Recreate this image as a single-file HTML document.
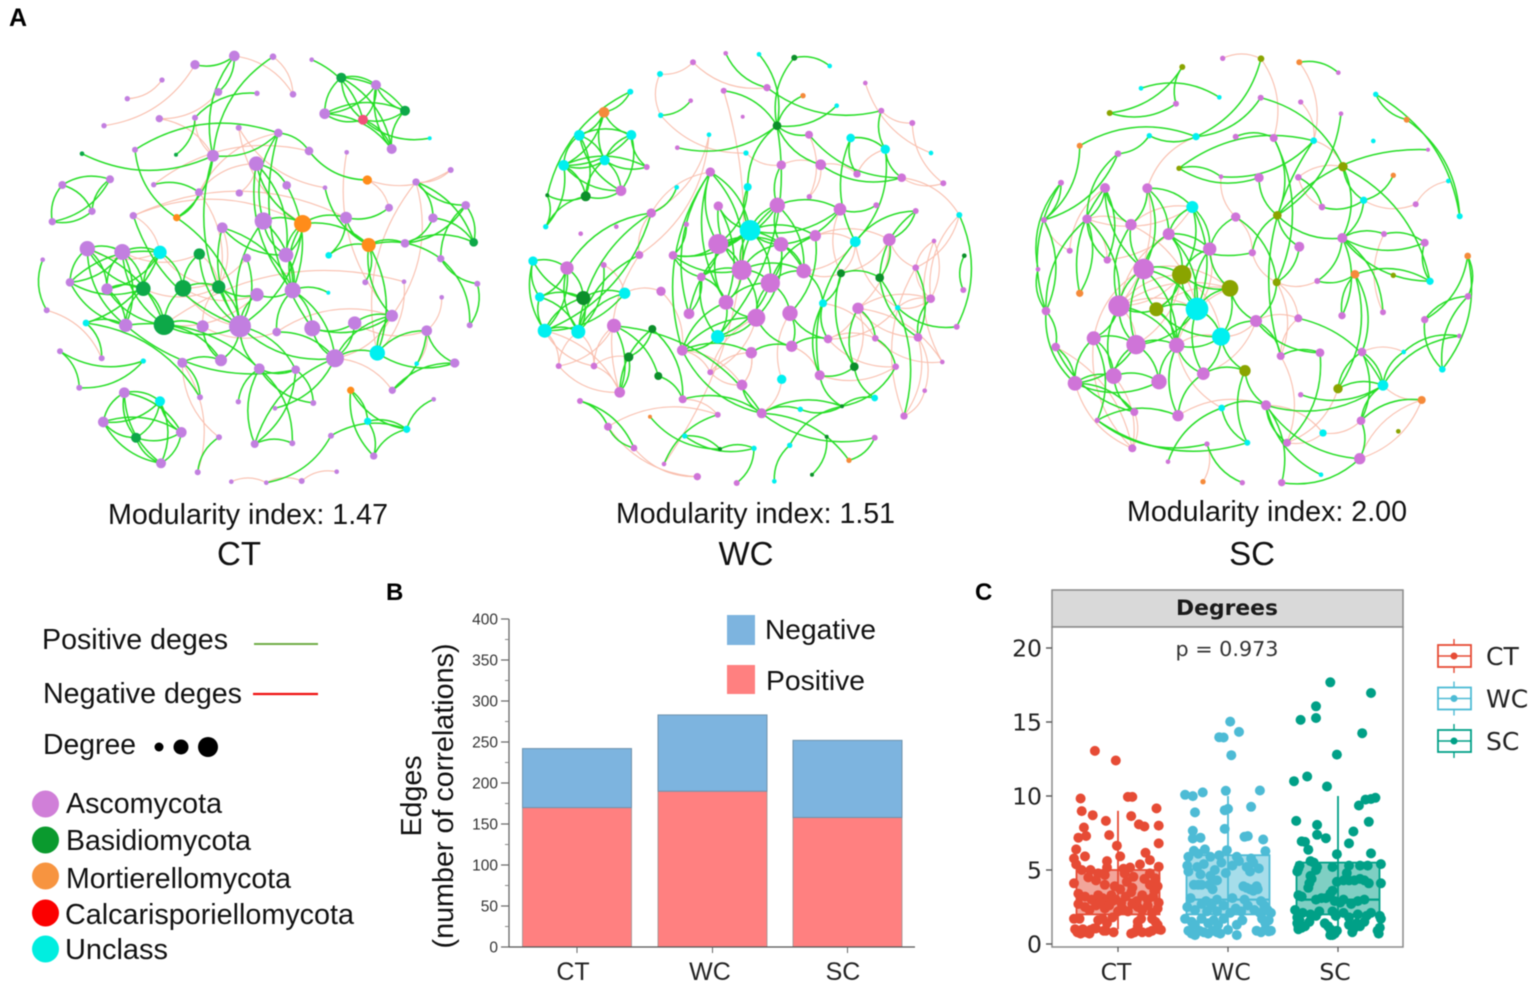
<!DOCTYPE html>
<html lang="en">
<head>
<meta charset="utf-8">
<title>Fungal co-occurrence networks</title>
<style>
html,body{margin:0;padding:0;background:#fff;}
svg{display:block;font-family:"Liberation Sans",sans-serif;}
#root{filter:blur(0.55px);}
</style>
</head>
<body>
<svg id="root" width="1535" height="988" viewBox="0 0 1535 988" xmlns="http://www.w3.org/2000/svg">
  <rect x="0" y="0" width="1535" height="988" fill="#ffffff"/>
  <text x="9" y="26" font-size="25" font-weight="700" fill="#000">A</text>
  <text x="386" y="600" font-size="24" font-weight="700" fill="#000">B</text>
  <text x="975" y="600" font-size="24" font-weight="700" fill="#000">C</text>

  <g id="networks"></g>

  <text x="108" y="524" font-size="28.6" fill="#111" textLength="280" lengthAdjust="spacingAndGlyphs">Modularity index: 1.47</text>
  <text x="616" y="523" font-size="28.6" fill="#111" textLength="279" lengthAdjust="spacingAndGlyphs">Modularity index: 1.51</text>
  <text x="1127" y="521" font-size="28.6" fill="#111" textLength="280" lengthAdjust="spacingAndGlyphs">Modularity index: 2.00</text>
  <text x="239" y="565" font-size="33" fill="#111" text-anchor="middle">CT</text>
  <text x="746" y="565" font-size="33" fill="#111" text-anchor="middle">WC</text>
  <text x="1252" y="565" font-size="33" fill="#111" text-anchor="middle">SC</text>

  <g>
    <text x="42" y="649" font-size="28.6" fill="#111" textLength="186" lengthAdjust="spacingAndGlyphs">Positive deges</text>
    <line x1="254" y1="644" x2="318" y2="644" stroke="#70ad47" stroke-width="2"/>
    <text x="43" y="703" font-size="28.6" fill="#111" textLength="199" lengthAdjust="spacingAndGlyphs">Negative deges</text>
    <line x1="253" y1="694" x2="318" y2="694" stroke="#f01010" stroke-width="2.2"/>
    <text x="43" y="754" font-size="28.6" fill="#111" textLength="93" lengthAdjust="spacingAndGlyphs">Degree</text>
    <circle cx="159" cy="747" r="4.5" fill="#000"/>
    <circle cx="181" cy="747" r="7.5" fill="#000"/>
    <circle cx="208" cy="747" r="10" fill="#000"/>
    <circle cx="45.5" cy="804" r="13.5" fill="#d07fd8"/>
    <circle cx="45.5" cy="840" r="13.5" fill="#0a9a2e"/>
    <circle cx="45.5" cy="876" r="13.5" fill="#f79440"/>
    <circle cx="45.5" cy="913" r="13.5" fill="#fb0000"/>
    <circle cx="45.5" cy="949" r="13.5" fill="#00eee0"/>
    <text x="66" y="813" font-size="28.6" fill="#111" textLength="156" lengthAdjust="spacingAndGlyphs">Ascomycota</text>
    <text x="66" y="850" font-size="28.6" fill="#111" textLength="185" lengthAdjust="spacingAndGlyphs">Basidiomycota</text>
    <text x="66" y="888" font-size="28.6" fill="#111" textLength="225" lengthAdjust="spacingAndGlyphs">Mortierellomycota</text>
    <text x="65" y="924" font-size="28.6" fill="#111" textLength="289" lengthAdjust="spacingAndGlyphs">Calcarisporiellomycota</text>
    <text x="65" y="959" font-size="28.6" fill="#111" textLength="103" lengthAdjust="spacingAndGlyphs">Unclass</text>
  </g>

  <g id="barChart">
    <text transform="translate(421,796) rotate(-90)" font-size="28.6" fill="#111" text-anchor="middle">Edges</text>
    <text transform="translate(453,796) rotate(-90)" font-size="28.6" fill="#111" text-anchor="middle" textLength="305" lengthAdjust="spacingAndGlyphs">(number of correlations)</text>
    <rect x="727" y="615" width="28" height="30" fill="#7db4df"/>
    <text x="765" y="639" font-size="28" fill="#111" textLength="111" lengthAdjust="spacingAndGlyphs">Negative</text>
    <rect x="727" y="665" width="28" height="29" fill="#ff8080"/>
    <text x="766" y="690" font-size="28" fill="#111" textLength="99" lengthAdjust="spacingAndGlyphs">Positive</text>
  </g>

  <g id="boxChart" style="font-family:'DejaVu Sans',sans-serif">
    <rect x="1052" y="590" width="351" height="37" fill="#d9d9d9" stroke="#8a8a8a" stroke-width="1.5"/>
    <text x="1227" y="615" font-size="21.5" font-weight="700" fill="#1a1a1a" text-anchor="middle" textLength="102" lengthAdjust="spacingAndGlyphs">Degrees</text>
    <rect x="1052" y="627" width="351" height="320" fill="#fff" stroke="#8a8a8a" stroke-width="1.5"/>
    <text x="1227" y="656" font-size="20.5" fill="#333" text-anchor="middle" textLength="103" lengthAdjust="spacingAndGlyphs">p = 0.973</text>
  </g>
</svg>
<script>
// ---------- network data: [x, y, radius, phylum] ----------
const ctNodes=[[613,48,16,'a'],[495,74,14,'a'],[729,50,10,'a'],[396,120,8,'a'],[292,176,8,'a'],[565,156,12,'a'],[681,160,8,'a'],[789,163,10,'a'],[845,59,7,'a'],[934,113,15,'b'],[1038,135,15,'a'],[884,221,16,'a'],[1125,212,15,'b'],[999,239,15,'c'],[1085,327,15,'a'],[1199,295,6,'u'],[222,257,8,'a'],[388,236,11,'a'],[495,233,9,'a'],[626,263,9,'a'],[745,279,13,'a'],[315,329,9,'a'],[156,341,7,'b'],[438,344,6,'b'],[549,347,18,'a'],[837,333,13,'a'],[950,337,7,'a'],[679,371,22,'a'],[1262,390,9,'a'],[1012,420,14,'m'],[770,436,13,'a'],[97,435,12,'a'],[240,418,12,'a'],[371,434,8,'a'],[507,457,12,'a'],[628,459,11,'a'],[885,443,7,'a'],[1158,426,11,'a'],[186,514,11,'a'],[67,545,11,'a'],[310,527,11,'a'],[440,533,11,'m'],[1077,503,12,'a'],[1307,496,13,'a'],[700,543,26,'a'],[818,551,26,'m'],[948,533,18,'a'],[1209,534,14,'a'],[577,563,16,'a'],[172,626,23,'a'],[277,636,24,'a'],[390,637,20,'u'],[508,642,17,'b'],[650,654,13,'a'],[768,645,22,'a'],[896,646,10,'u'],[1016,615,21,'m'],[1125,610,13,'a'],[1331,607,13,'b'],[1232,656,11,'a'],[38,659,7,'a'],[120,727,13,'a'],[231,747,17,'a'],[340,746,22,'b'],[459,745,25,'b'],[566,741,20,'b'],[681,764,20,'a'],[788,751,24,'a'],[895,758,6,'u'],[1006,727,9,'a'],[1122,725,7,'a'],[1342,731,9,'a'],[1235,772,7,'a'],[50,811,9,'a'],[168,849,10,'u'],[287,856,20,'a'],[402,854,31,'b'],[518,859,18,'a'],[630,859,33,'a'],[740,876,13,'a'],[847,865,24,'a'],[974,849,20,'a'],[1086,827,18,'a'],[1190,872,16,'a'],[1319,856,9,'a'],[90,934,9,'a'],[215,955,9,'a'],[340,963,8,'u'],[457,968,15,'a'],[573,961,18,'a'],[688,986,16,'a'],[797,989,13,'a'],[915,955,27,'a'],[1042,939,23,'u'],[1160,971,7,'u'],[1274,969,14,'a'],[1087,1051,11,'a'],[962,1051,11,'m'],[148,1043,9,'a'],[510,1072,9,'a'],[283,1058,16,'a'],[390,1084,15,'u'],[625,1085,8,'a'],[735,1105,7,'a'],[850,1089,9,'a'],[1211,1078,7,'a'],[1013,1144,11,'u'],[1130,1168,11,'u'],[220,1146,16,'a'],[454,1177,16,'a'],[318,1193,15,'b'],[567,1192,9,'a'],[674,1212,12,'a'],[787,1210,9,'a'],[903,1187,9,'a'],[1031,1248,11,'a'],[393,1270,15,'a'],[503,1297,9,'a'],[604,1325,7,'a'],[709,1328,7,'a'],[815,1323,9,'a'],[920,1295,7,'a']];
const ctGreen="0-1 0-5 0-24 2-24 8-13 9-11 9-10 9-12 9-13 9-14 10-11 10-12 10-13 10-14 11-12 11-13 11-14 12-13 12-14 13-14 13-15 6-18 18-23 22-24 24-20 21-20 21-41 41-78 24-78 20-25 25-29 20-80 27-30 27-45 27-54 27-67 30-67 45-67 44-45 44-54 44-67 45-54 54-67 45-78 44-78 48-78 48-67 48-54 53-78 52-78 52-64 49-61 49-62 49-63 49-75 50-61 50-62 50-63 50-75 51-61 51-62 51-63 51-74 51-64 61-63 61-75 62-63 62-75 62-76 63-75 63-76 74-75 50-51 49-50 49-76 50-76 64-65 64-76 65-78 76-77 76-78 76-89 75-90 75-91 31-32 31-38 31-39 32-38 32-39 38-39 33-34 46-56 36-56 46-42 46-55 45-46 45-56 55-56 56-57 56-69 56-59 57-47 57-43 47-37 47-58 37-43 37-58 43-58 43-59 57-58 59-71 59-84 71-84 56-82 56-93 67-68 67-66 66-78 66-65 67-79 67-80 67-92 78-92 78-89 78-90 78-91 79-92 80-92 81-92 82-92 81-82 81-80 80-82 83-93 83-95 83-96 93-95 92-93 93-82 96-95 85-87 85-98 87-98 86-74 74-99 88-89 88-99 90-112 90-113 90-102 91-112 91-104 90-104 92-103 92-112 73-60 100-101 100-108 100-110 100-109 100-116 101-108 101-110 101-109 101-116 108-109 108-110 108-116 109-110 109-116 110-116 111-117 112-113 91-90 114-119 114-107 97-106 97-107 97-115 106-107 106-115 107-115 105-107 40-78 34-41 20-44 77-89 54-45 24-41".split(' ');
const ctRed="0-1 1-16 3-4 17-5 0-7 2-7 17-24 18-24 19-45 20-34 34-27 35-27 40-51 40-45 29-42 26-82 28-37 28-29 37-82 34-65 49-51 50-52 51-65 52-65 76-66 64-78 65-77 73-86 88-117 111-88 118-119 119-120 120-121 70-93 70-76 72-83 83-94 96-92 25-33 36-19 52-78 53-64 63-65 64-66 77-79 79-82 81-83 92-82 92-93 37-93 46-40 48-65".split(' ');

const wcNodes=[[617,40,7,'a'],[717,43,7,'u'],[823,53,9,'b'],[929,78,7,'u'],[519,67,9,'a'],[420,102,9,'u'],[741,143,11,'a'],[611,152,9,'a'],[849,167,8,'m'],[1036,129,7,'a'],[512,182,7,'a'],[331,155,9,'u'],[252,217,16,'m'],[422,226,8,'u'],[668,230,6,'a'],[950,197,7,'u'],[1084,212,9,'a'],[1177,249,9,'a'],[771,257,13,'b'],[178,286,16,'u'],[334,285,15,'u'],[567,284,7,'u'],[867,284,12,'a'],[992,294,13,'u'],[472,323,7,'a'],[678,339,8,'u'],[1096,328,14,'u'],[1233,339,7,'u'],[254,361,15,'u'],[131,376,16,'u'],[380,381,9,'a'],[784,375,14,'a'],[902,374,16,'a'],[1011,402,11,'a'],[1145,413,13,'a'],[1270,430,9,'a'],[571,396,14,'a'],[303,452,16,'a'],[470,442,7,'u'],[683,441,12,'u'],[197,469,15,'b'],[82,466,6,'b'],[868,470,8,'a'],[772,496,23,'a'],[960,508,19,'a'],[595,498,14,'a'],[1069,496,9,'a'],[1187,513,9,'a'],[394,519,14,'a'],[1318,525,9,'u'],[77,560,8,'u'],[289,560,7,'a'],[499,553,8,'a'],[690,571,31,'u'],[886,587,17,'a'],[182,581,7,'a'],[595,612,30,'a'],[783,613,22,'a'],[1108,599,19,'a'],[1006,605,16,'u'],[1242,603,7,'a'],[39,663,14,'u'],[358,645,12,'a'],[459,646,13,'a'],[1333,647,7,'b'],[251,675,9,'a'],[141,684,20,'a'],[665,690,30,'a'],[851,693,22,'a'],[544,711,13,'a'],[963,700,12,'b'],[1079,713,13,'b'],[1187,683,10,'a'],[190,774,21,'b'],[751,729,29,'a'],[59,771,14,'u'],[314,760,17,'u'],[423,754,14,'a'],[1330,750,9,'a'],[1232,776,13,'a'],[618,787,22,'a'],[909,790,12,'u'],[1133,803,8,'u'],[1014,805,17,'a'],[507,821,16,'a'],[810,820,23,'a'],[709,833,27,'a'],[74,872,21,'u'],[175,875,21,'u'],[282,857,21,'a'],[397,867,12,'b'],[593,890,20,'u'],[1310,860,9,'a'],[924,897,13,'a'],[1066,895,10,'a'],[1194,892,13,'a'],[487,931,16,'a'],[694,938,17,'a'],[815,919,17,'a'],[326,951,14,'b'],[116,978,9,'a'],[222,978,10,'a'],[1003,980,13,'b'],[1127,980,10,'a'],[1267,966,7,'a'],[571,997,9,'a'],[415,1008,12,'b'],[899,1006,15,'a'],[666,1035,16,'a'],[785,1018,14,'u'],[299,1057,16,'a'],[1214,1052,7,'a'],[1064,1074,10,'u'],[488,1078,12,'a'],[180,1083,9,'a'],[966,1099,6,'b'],[725,1120,15,'a'],[841,1108,8,'u'],[1152,1128,11,'a'],[390,1130,6,'m'],[593,1124,9,'a'],[264,1160,12,'a'],[494,1188,8,'u'],[920,1190,6,'b'],[1064,1193,9,'a'],[342,1224,10,'a'],[809,1216,8,'u'],[600,1227,6,'b'],[702,1225,8,'u'],[987,1261,8,'m'],[432,1272,7,'a'],[532,1310,11,'a'],[876,1304,6,'b'],[650,1329,9,'a'],[763,1324,7,'u']];
const wcGreen="0-6 1-18 2-3 2-18 6-16 7-18 8-18 15-18 24-18 18-22 18-32 10-13 11-12 11-41 12-19 12-20 12-28 12-29 19-20 19-28 19-29 19-37 19-40 20-28 20-29 20-30 20-37 28-29 28-30 28-37 28-40 29-37 29-40 29-30 37-40 40-41 40-50 41-50 29-50 48-38 48-66 48-87 48-88 61-66 61-73 61-75 61-87 66-73 66-75 66-87 66-88 73-75 73-76 73-87 73-88 75-87 75-88 76-87 76-88 87-88 65-88 62-88 36-53 36-56 36-67 36-80 39-18 39-53 39-56 43-53 43-56 43-57 43-44 43-68 43-67 44-53 44-57 44-46 45-53 45-67 45-80 53-56 53-57 53-67 53-74 53-54 53-68 54-74 56-67 56-57 56-63 56-69 56-80 57-67 57-68 57-74 57-86 63-67 63-69 63-53 67-74 67-68 67-80 67-86 67-69 69-80 69-84 69-91 68-74 74-80 74-85 74-86 74-91 80-86 80-91 80-96 84-53 86-91 86-98 86-96 85-98 85-93 91-96 96-97 97-98 98-93 52-63 36-96 36-84 18-91 22-34 31-43 32-34 23-33 23-26 26-34 26-59 23-59 16-26 47-58 47-71 47-59 58-71 70-71 70-81 81-93 81-107 70-102 71-95 71-118 83-94 94-103 102-112 102-107 102-83 59-107 72-95 89-110 90-110 99-110 90-99 89-106 90-113 106-113 113-116 116-117 116-115 116-124 116-129 117-115 115-112 115-103 107-115 108-116 114-121 121-125 114-125 119-127 122-128 122-127 120-130 128-133 127-128 126-134 126-115 123-132 124-129 49-92 64-78 82-92 79-95 89-116 68-81 54-85 96-116".split(' ');
const wcRed="4-5 4-6 5-13 7-130 21-48 21-62 9-27 17-35 17-16 34-49 48-62 89-100 89-101 101-110 100-110 87-110 88-101 76-77 77-96 62-110 108-105 108-96 109-116 97-105 105-86 42-32 42-22 31-32 25-31 32-33 33-26 35-34 49-72 49-79 60-72 60-79 60-104 79-82 82-93 82-59 58-72 58-83 83-104 83-102 93-103 94-104 95-118 111-118 111-95 72-118 107-103 113-120 121-120 121-131 125-131 36-48 97-108 85-109 59-68 79-83 54-59 13-25 65-76 87-100 87-101 88-100 99-101 93-83 93-94 81-94 98-107 97-108 86-105 96-105 79-72 82-79 83-95 58-54 44-70 68-70 59-70 70-58".split(' ');

const scNodes=[[593,55,8,'a'],[708,56,10,'b'],[823,67,9,'m'],[940,98,7,'a'],[472,81,9,'b'],[348,145,7,'u'],[583,172,7,'u'],[707,173,9,'a'],[453,191,9,'a'],[254,219,9,'b'],[827,186,8,'a'],[1052,163,8,'u'],[948,221,7,'a'],[1145,239,9,'m'],[513,290,11,'u'],[373,287,8,'u'],[164,317,9,'m'],[632,290,9,'a'],[746,294,12,'a'],[866,302,10,'u'],[1045,303,7,'u'],[1209,329,6,'a'],[279,341,10,'a'],[462,385,8,'b'],[954,380,14,'b'],[1105,406,8,'m'],[588,410,7,'a'],[702,413,14,'a'],[820,412,10,'a'],[1270,423,7,'u'],[108,428,9,'a'],[240,444,15,'a'],[367,445,15,'a'],[502,501,18,'u'],[1016,481,11,'u'],[891,501,10,'a'],[1172,493,9,'a'],[57,540,9,'a'],[186,537,14,'a'],[318,554,17,'a'],[632,531,14,'a'],[757,526,13,'b'],[1304,529,9,'u'],[431,582,18,'a'],[554,627,20,'a'],[952,594,15,'a'],[1077,582,9,'a'],[1199,608,12,'a'],[134,632,9,'a'],[823,620,15,'a'],[247,660,11,'a'],[682,638,11,'a'],[39,688,7,'a'],[356,687,31,'a'],[470,704,29,'b'],[164,760,11,'m'],[990,703,13,'m'],[1105,706,8,'b'],[615,745,25,'b'],[755,727,12,'b'],[877,723,9,'a'],[1215,724,11,'u'],[1328,648,10,'m'],[282,798,32,'a'],[63,813,13,'a'],[394,808,21,'b'],[516,807,34,'u'],[1329,769,10,'a'],[1074,817,9,'a'],[820,835,12,'a'],[951,827,11,'a'],[1199,839,11,'a'],[693,843,18,'a'],[588,890,27,'u'],[206,895,21,'a'],[333,914,29,'a'],[455,916,23,'a'],[92,921,13,'a'],[1303,888,7,'a'],[767,948,12,'a'],[885,938,13,'a'],[1011,936,13,'a'],[1136,936,7,'u'],[660,992,17,'b'],[535,1001,19,'a'],[1252,988,10,'u'],[150,1030,22,'a'],[266,1008,24,'a'],[402,1025,23,'a'],[939,1046,14,'b'],[1074,1036,16,'u'],[827,1064,8,'a'],[1190,1080,12,'m'],[723,1096,15,'a'],[590,1104,10,'u'],[328,1116,12,'a'],[459,1127,17,'a'],[217,1141,8,'a'],[1008,1142,13,'a'],[1120,1174,7,'b'],[894,1179,11,'u'],[667,1208,9,'u'],[786,1208,12,'a'],[546,1212,8,'a'],[322,1225,12,'a'],[1004,1256,17,'a'],[429,1265,7,'a'],[888,1304,7,'u'],[534,1325,8,'m'],[652,1328,8,'a'],[770,1328,11,'a']];
const scGreen="1-14 2-3 4-9 4-8 5-6 8-9 14-16 14-15 15-22 22-37 7-14 7-24 12-41 11-13 11-42 13-42 21-41 17-18 18-41 18-59 19-26 19-23 23-26 23-27 24-45 24-34 22-38 30-37 30-64 30-52 31-38 31-55 31-50 31-39 31-53 32-33 32-39 32-43 32-53 33-43 33-44 33-54 33-66 38-50 38-55 38-64 38-63 39-53 39-63 43-44 43-54 43-53 43-51 43-66 44-54 44-58 44-66 53-54 53-65 53-63 53-66 53-75 53-76 54-58 54-65 54-66 54-76 58-66 58-73 58-72 63-65 63-75 63-76 63-74 63-87 65-66 65-73 65-76 66-73 66-75 66-76 66-84 73-72 73-76 73-84 73-83 74-75 74-86 74-87 75-76 75-86 75-87 75-88 76-84 76-88 76-96 84-96 84-83 86-87 86-88 86-95 87-88 87-95 64-77 64-86 77-86 77-95 97-103 97-96 40-44 41-45 41-49 41-51 59-72 59-49 45-46 45-47 45-61 45-68 45-70 45-60 46-47 47-61 56-70 56-81 56-61 34-45 34-35 25-34 62-67 62-71 62-85 67-71 67-85 71-85 78-90 72-79 72-80 79-80 81-90 81-98 89-90 90-91 90-98 90-93 81-89 83-101 93-105 93-110 98-105 105-110 102-80 102-93 103-109 94-106 94-93 101-94 93-107 92-98 19-79 27-41 24-61 28-35 60-56 56-89 69-90 40-59 37-64 52-64 16-37 82-90 78-82 83-93 74-97 97-101".split(' ');
const scRed="0-1 1-18 2-19 16-37 14-32 31-53 32-63 39-66 43-63 53-58 53-65 65-66 63-66 33-39 33-38 33-50 54-73 65-73 63-58 86-104 74-104 87-104 77-104 95-104 96-93 105-92 103-108 102-100 100-98 19-24 24-28 35-28 34-36 36-29 26-40 40-51 51-59 60-59 69-79 79-102 79-59 72-69 69-59 90-92 81-82 76-94 84-72 75-63 74-53 38-39 10-19 48-37 48-31 50-38 92-105 93-100 46-68 89-102 54-63 54-75 58-76 65-58 76-73 72-73 63-54 66-44".split(' ');

// ---------- bar chart data ----------
const barCategories=['CT','WC','SC'];
const positiveEdges=[170,190,158];
const negativeEdges=[72,93,94];
const barTickLabels=[0,50,100,150,200,250,300,350,400];

// ---------- box chart data ----------
const groups=['CT','WC','SC'];
const whiskerLow=[1,1,1];
const boxQ1=[2,2,2];
const boxMedian=[3,3,3];
const boxQ3=[5,6,5.5];
const whiskerHigh=[9,10,10];
const degreeTickLabels=[0,5,10,15,20];
// each point: [degree, horizontal jitter in category widths]
const ctPoints=[[13.05,-.21],[12.4,-.02],[9.83,-.34],[9.94,.09],[9.94,.13],[8.98,-.33],[9.16,.35],[8.7,-.23],[8.32,-.11],[8.64,.12],[8.08,.19],[7.94,.24],[8,.37],[7.87,-.31],[7.3,-.29],[7.18,-.36],[7.36,-.08],[6.8,.37],[6.64,-.01],[6.39,-.38],[6.16,.25],[5.92,-.3],[5.92,.02],[5.78,-.4],[5.6,-.1],[5.38,-.38],[5.22,.37],[5.67,.29],[5.38,.2],[5.17,.11],[5.08,.05],[5.17,-.1],[5,-.33],[5,-.25],[4.77,-.18],[4.66,-.12],[4.77,.06],[4.54,.14],[4.77,.29],[4.43,.34],[4.1,-.4],[4.5,-.27],[4.3,-.2],[4,-.12],[3.9,-.03],[3.7,.02],[4.2,.08],[3.8,.13],[4.4,.24],[4,.29],[3.6,.33],[3.9,.36],[3.4,-.36],[3.2,-.3],[3,-.24],[3.3,-.18],[3.1,-.14],[2.9,-.1],[3.3,-.06],[3,-.02],[2.8,.03],[3.2,.07],[3.5,.12],[2.9,.17],[3.3,.22],[3,.27],[3.2,.32],[2.8,.37],[2.7,-.36],[2.5,-.3],[2.3,-.26],[2.6,-.2],[2.8,-.16],[2.4,-.12],[2.6,-.08],[2.9,-.05],[2.2,0],[2.4,.04],[2.2,.09],[2.7,.13],[2.5,.18],[2.3,.22],[2.6,.27],[2.1,.31],[2.4,.36],[1.7,-.4],[1.7,-.35],[1.6,-.18],[1.7,-.14],[1.4,-.1],[1.8,-.05],[1.5,.18],[1.7,.21],[1.2,.18],[1.7,.31],[1.5,.34],[1.3,.36],[1,-.39],[.8,-.37],[.7,-.34],[1,-.32],[.8,-.29],[.7,-.26],[.95,-.25],[1.05,-.22],[1.05,-.2],[.9,-.13],[.9,-.11],[.8,-.04],[.7,.12],[.8,.15],[1,.18],[.8,.22],[.8,.28],[.9,.31],[1,.37],[.95,.39]];
const wcPoints=[[15.03,.02],[14.33,.1],[13.97,-.08],[13.95,-.04],[12.76,.03],[10.08,-.39],[9.99,-.32],[10.24,-.23],[10.35,-.02],[10.37,.29],[8.89,-.3],[9.04,-.03],[9.13,0],[9.27,.21],[7.78,-.03],[7.65,-.32],[7.13,-.32],[7.18,-.25],[7.24,.15],[7.29,.18],[7.06,.32],[6.3,-.31],[6.39,-.21],[6.34,-.01],[6.28,.34],[5.89,-.36],[6.1,-.27],[5.89,-.16],[6,-.08],[5.89,.08],[5.78,.21],[5.3,-.37],[5.2,-.28],[4.9,-.36],[4.7,-.25],[5.4,-.22],[4.6,-.16],[5,-.12],[5.5,-.06],[4.8,-.02],[5.3,.04],[5.6,.1],[5.2,.17],[4.9,.2],[5.5,.23],[5.1,.28],[4,-.31],[4,-.27],[4,-.24],[4,-.17],[3.7,-.14],[4.3,-.1],[3.9,.14],[3.8,.17],[3.7,.2],[3.6,.23],[3.7,.27],[3.9,.26],[3.1,-.34],[2.9,-.2],[3,-.1],[3.1,.04],[3,.15],[2.9,.3],[2.5,-.37],[2.3,-.3],[2.7,-.24],[2.2,-.19],[2.6,-.15],[2.2,-.1],[2.6,-.04],[2.1,.02],[2.4,.07],[2.2,.12],[2.6,.18],[2.3,.24],[2.1,.29],[2.6,.33],[2.1,.39],[2.3,.36],[1.7,-.39],[1.5,-.33],[1.3,-.3],[1.7,-.24],[1.4,-.18],[1.6,-.13],[1.3,-.09],[1.7,-.04],[1.3,.08],[1.6,.13],[1.7,.31],[1.4,.34],[1.6,.37],[.9,-.36],[.7,-.33],[.6,-.3],[.9,-.26],[.8,-.22],[.7,-.18],[.9,-.14],[.8,-.1],[.7,-.07],[.95,0],[.6,.08],[.9,.26],[.8,.3],[1,.34],[.85,.37],[.9,.39]];
const scPoints=[[17.68,-.07],[16.96,.3],[16.06,-.2],[15.14,-.34],[15.27,-.2],[14.24,.22],[12.8,-.01],[11.32,-.28],[11,-.4],[10.64,-.1],[9.88,.34],[9.8,.3],[9.76,.25],[9.36,.19],[8.32,-.38],[8.26,.28],[8.05,-.19],[7.6,.14],[7.38,-.19],[7.15,-.11],[6.93,-.33],[6.9,-.3],[6.8,.1],[6.37,-.27],[6.07,-.01],[6.12,.3],[5.6,-.25],[5.5,-.22],[5.3,-.35],[5.1,-.36],[4.9,-.37],[5.2,-.19],[5,-.2],[5.4,.39],[5.3,.27],[5.3,.2],[5.2,-.05],[5.3,.1],[4.8,.08],[4.6,-.25],[4.4,-.24],[4.1,-.26],[3.8,-.27],[4.2,-.01],[4.3,.05],[4.3,.1],[4.3,.15],[4.4,.2],[4.3,.24],[4.1,.28],[4.1,.39],[3.6,-.05],[3.4,-.07],[3.3,-.36],[3.2,-.33],[3,-.2],[3.1,-.15],[3.1,-.11],[2.9,-.03],[2.8,.02],[3,.05],[2.7,.12],[2.9,.18],[3,.24],[2.3,-.39],[2.1,-.32],[2.2,-.17],[2,-.25],[1.9,-.2],[2.2,-.05],[1.9,-.02],[2.1,.05],[1.8,.1],[2,.18],[1.9,.26],[2.1,.3],[1.9,.38],[1.7,.39],[1.8,-.37],[1.6,-.35],[1.4,-.37],[1.2,-.36],[1.1,-.33],[1,-.36],[1.2,-.3],[1.5,-.26],[1.4,-.12],[1.2,-.09],[1,-.07],[.8,-.06],[.6,-.05],[.7,-.03],[.6,-.07],[.9,-.01],[1.3,.1],[1,.14],[.8,.13],[1.4,.17],[1.2,.2],[1.5,.24],[.9,.36],[.7,.37],[1.1,.38]];

const SVGNS='http://www.w3.org/2000/svg';
function mk(parent,tag,attrs,text){
  const el=document.createElementNS(SVGNS,tag);
  for(const k in attrs){el.setAttribute(k,attrs[k]);}
  if(text!==undefined){el.textContent=text;}
  parent.appendChild(el);
  return el;
}

// ---------- networks ----------
function drawNetwork(nodes,green,red,ox,oy,colors,panel){
  const sx=v=>ox+v/3, sy=v=>oy+v/3;
  const g=mk(document.getElementById('networks'),'g',{});
  
  
  const edgePath=(pair,stroke,width,kind)=>{
    const [a,b]=pair.split('-').map(Number);
    const A=nodes[a],B=nodes[b];
    const x1=sx(A[0]),y1=sy(A[1]),x2=sx(B[0]),y2=sy(B[1]);
    const sign=((a*7+b*3)%2===0)?1:-1;
    const cx=(x1+x2)/2-(y2-y1)*0.24*sign, cy=(y1+y2)/2+(x2-x1)*0.24*sign;
    const p=mk(g,'path',{d:'M'+x1.toFixed(1)+' '+y1.toFixed(1)+'Q'+cx.toFixed(1)+' '+cy.toFixed(1)+' '+x2.toFixed(1)+' '+y2.toFixed(1),fill:'none',stroke:stroke,'stroke-width':width});
    
    
  };
  red.forEach(e=>edgePath(e,'#f9bfae',1.1,'negative'));
  green.forEach(e=>edgePath(e,'#26de26',1.5,'positive'));
  nodes.forEach(n=>{
    const c=mk(g,'circle',{cx:sx(n[0]).toFixed(1),cy:sy(n[1]).toFixed(1),r:(n[2]/3).toFixed(2),fill:colors[n[3]]});
    
    
  });
}
drawNetwork(ctNodes,ctGreen,ctRed,30,40,{a:'#c27fe0',b:'#0da848',m:'#ff8c1a',c:'#f2507a',u:'#00f0f0'},'ct');
drawNetwork(wcNodes,wcGreen,wcRed,520,40,{a:'#cf74d8',b:'#0b8f2a',m:'#f58a3a',c:'#f2507a',u:'#00f0f0'},'wc');
drawNetwork(scNodes,scGreen,scRed,1025,40,{a:'#cf74d8',b:'#8aa400',m:'#f58a3a',c:'#f2507a',u:'#00f0f0'},'sc');

// ---------- bar chart ----------
(function(){
  const g=document.getElementById('barChart');
  const y=v=>947-v*0.82;
  const barWidth=109, centers=[577,712.5,847.5];
  barCategories.forEach((cat,i)=>{
    const x=centers[i]-barWidth/2;
    const pos=mk(g,'rect',{x:x,y:y(positiveEdges[i]),width:barWidth,height:y(0)-y(positiveEdges[i]),fill:'#ff8080',stroke:'#9a8f8f','stroke-width':0.8});
    
    
    const total=positiveEdges[i]+negativeEdges[i];
    const neg=mk(g,'rect',{x:x,y:y(total),width:barWidth,height:y(positiveEdges[i])-y(total),fill:'#7db4df',stroke:'#6f93ad','stroke-width':1});
    
    
    const lbl=mk(g,'text',{x:[573,710,843][i],y:980,'font-size':25,fill:'#222','text-anchor':'middle'},cat);
    
    
  });
  const yAxis=mk(g,'line',{x1:509,y1:y(400),x2:509,y2:y(0),stroke:'#666','stroke-width':1.3});
  
  
  const xAxis=mk(g,'line',{x1:509,y1:y(0),x2:915,y2:y(0),stroke:'#555','stroke-width':1.3});
  
  
  barTickLabels.forEach((t,i)=>{
    const tick=mk(g,'line',{x1:501,y1:y(t),x2:509,y2:y(t),stroke:'#666','stroke-width':1.2});
    
    
    if(i<barTickLabels.length-1){
      const minor=mk(g,'line',{x1:505,y1:y(t+25),x2:509,y2:y(t+25),stroke:'#888','stroke-width':1});
      
      
    }
    const lbl=mk(g,'text',{x:498,y:y(t)+5.5,'font-size':15.5,fill:'#333','text-anchor':'end'},t);
    
    
  });
  centers.forEach(c=>{
    const tick=mk(g,'line',{x1:c,y1:y(0),x2:c,y2:y(0)+6,stroke:'#666','stroke-width':1});
    
    
  });
})();

// ---------- box + jitter chart ----------
(function(){
  const g=document.getElementById('boxChart');
  const y=v=>944-v*14.8;
  const x=i=>1118+i*110;
  const colors=['#e64b35','#4dbbd5','#00a087'];
  const allPoints=[ctPoints,wcPoints,scPoints];
  const halfBox=41.5;
  degreeTickLabels.forEach(t=>{
    const tick=mk(g,'line',{x1:1046,y1:y(t),x2:1052,y2:y(t),stroke:'#555','stroke-width':1.4});
    
    
    const lbl=mk(g,'text',{x:1042,y:y(t)+8.5,'font-size':23.5,fill:'#222','text-anchor':'end'},t);
    
    
  });
  groups.forEach((grp,i)=>{
    const key=grp.toLowerCase();
    const cx=x(i), col=colors[i];
    const whisk=mk(g,'line',{x1:cx,y1:y(whiskerLow[i]),x2:cx,y2:y(whiskerHigh[i]),stroke:col,'stroke-width':1.8});
    
    
    const box=mk(g,'rect',{x:cx-halfBox,y:y(boxQ3[i]),width:halfBox*2,height:y(boxQ1[i])-y(boxQ3[i]),fill:col,'fill-opacity':0.5,stroke:col,'stroke-width':1.8});
    
    
    const med=mk(g,'line',{x1:cx-halfBox,y1:y(boxMedian[i]),x2:cx+halfBox,y2:y(boxMedian[i]),stroke:col,'stroke-width':2.2});
    
    
    allPoints[i].forEach(p=>{
      const c=mk(g,'circle',{cx:(cx+p[1]*110).toFixed(1),cy:y(p[0]).toFixed(1),r:5,fill:col});
      
      
    });
    const lbl=mk(g,'text',{x:[1116,1231,1335][i],y:980,'font-size':23.5,fill:'#222','text-anchor':'middle'},grp);
    
    
    const tick=mk(g,'line',{x1:cx,y1:947,x2:cx,y2:952,stroke:'#555','stroke-width':1.2});
    
    
    // legend key
    const ly=656+i*42.5;
    const lw=mk(g,'line',{x1:1454,y1:ly-17,x2:1454,y2:ly+17,stroke:col,'stroke-width':1.4});
    
    
    const lb=mk(g,'rect',{x:1438,y:ly-11,width:33,height:22,fill:'#fff',stroke:col,'stroke-width':1.8});
    
    
    const lm=mk(g,'line',{x1:1438,y1:ly,x2:1471,y2:ly,stroke:col,'stroke-width':1.4});
    
    
    const ld=mk(g,'circle',{cx:1454,cy:ly,r:3.5,fill:col});
    
    
    const lt=mk(g,'text',{x:1486,y:ly+9,'font-size':25,fill:'#222'},grp);
    
    
  });
})();
</script>
</body>
</html>
